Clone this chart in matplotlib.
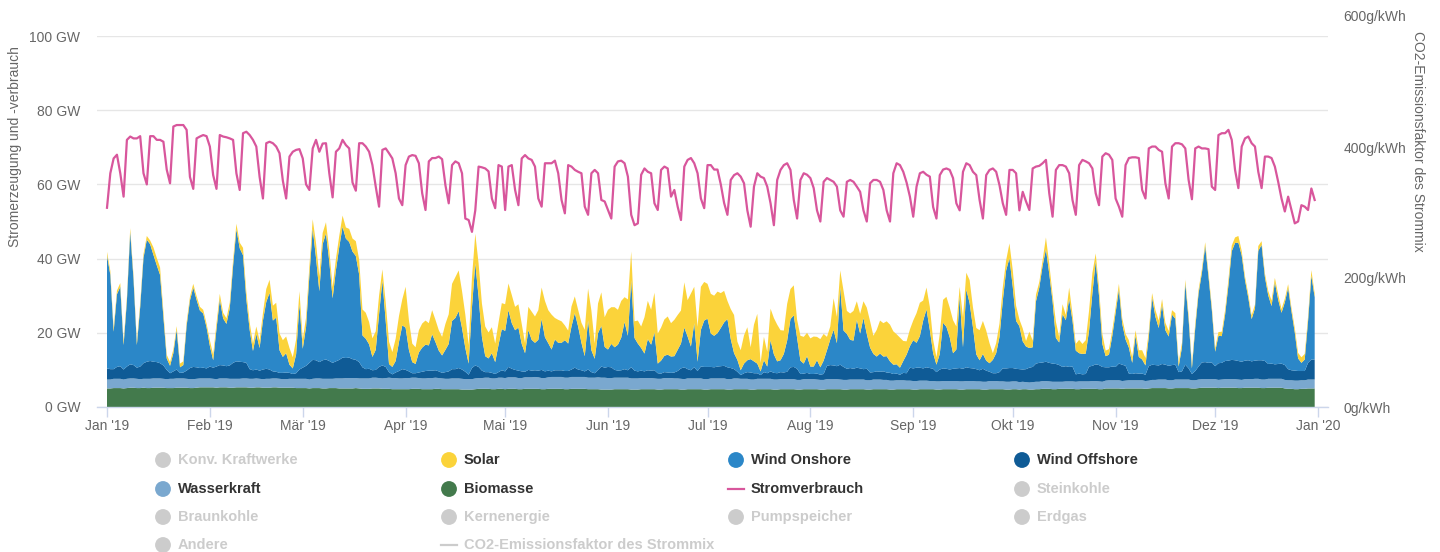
import numpy as np
import pandas as pd
import matplotlib
matplotlib.use("Agg")
import matplotlib.pyplot as plt
import matplotlib.dates as mdates

plt.rcParams['font.family'] = ['Liberation Sans', 'DejaVu Sans']

# ---------------- data ----------------
dates = pd.date_range("2019-01-01", "2019-12-31", freq="D")
month_ticks = pd.date_range("2019-01-01", "2020-01-01", freq="MS")
month_labels = ["Jan '19", "Feb '19", "Mär '19", "Apr '19", "Mai '19", "Jun '19",
                "Jul '19", "Aug '19", "Sep '19", "Okt '19", "Nov '19", "Dez '19", "Jan '20"]
gw_ticks = [0, 20, 40, 60, 80, 100]
co2_ticks = [0, 200, 400, 600]

# Stromverbrauch (GW), daily
consumption = [
    53.7, 63.0, 67.0, 68.0, 63.0, 56.7,
    72.0, 72.9, 72.4, 72.4, 73.0, 63.0, 60.0,
    73.0, 73.0, 72.0, 72.0, 71.5, 64.0, 60.3,
    75.6, 76.0, 76.0, 76.0, 74.7, 62.0, 58.8,
    72.4, 72.9, 73.3, 73.0, 70.2, 62.5, 58.8,
    73.3, 72.9, 72.7, 72.4, 72.0, 63.0, 58.5,
    73.8, 74.2, 73.3, 72.0, 70.2, 62.0, 56.2,
    71.1, 71.5, 71.1, 70.2, 68.4, 61.0, 56.2,
    67.5, 68.8, 69.3, 69.5, 67.0, 60.0, 58.5,
    69.7, 72.0, 68.8, 71.0, 71.1, 63.0, 56.5,
    68.8, 69.7, 72.0, 70.6, 69.7, 60.5, 58.3,
    71.1, 71.1, 70.2, 68.8, 65.2, 59.4, 54.0,
    69.3, 69.7, 68.4, 67.0, 63.0, 56.2, 54.4,
    65.2, 67.5, 67.9, 67.7, 65.7, 57.6, 53.1,
    66.2, 67.1, 67.1, 67.5, 66.8, 59.8, 54.9,
    65.2, 66.2, 65.7, 63.0, 50.8, 50.4, 47.2,
    53.0, 64.8, 64.6, 64.3, 63.5, 56.2, 53.6,
    65.2, 64.8, 53.1, 64.8, 65.2, 58.5, 54.4,
    67.0, 67.9, 67.0, 66.6, 64.8, 56.2, 54.0,
    65.7, 65.7, 65.7, 66.4, 63.0, 55.8, 52.2,
    65.2, 64.8, 63.9, 63.4, 63.0, 54.0, 51.8,
    63.0, 63.9, 63.0, 55.8, 55.4, 53.1, 50.8,
    64.8, 66.2, 66.4, 65.7, 62.1, 51.8, 49.0,
    49.5, 62.6, 64.3, 63.4, 63.0, 54.9, 53.1,
    63.9, 64.8, 64.3, 56.7, 58.5, 54.0, 50.4,
    64.8, 66.6, 67.1, 65.7, 63.0, 56.2, 53.6,
    65.2, 65.2, 64.0, 64.0, 60.0, 55.0, 51.8,
    61.2, 62.5, 63.0, 62.1, 60.3, 53.0, 48.6,
    59.4, 63.0, 62.1, 61.7, 59.4, 54.9, 49.0,
    61.2, 63.9, 65.2, 65.7, 63.9, 55.8, 50.8,
    61.2, 63.0, 62.6, 61.7, 59.0, 53.0, 50.0,
    60.7, 61.7, 61.2, 60.7, 59.4, 53.0, 51.3,
    60.7, 61.2, 60.7, 59.4, 58.0, 53.0, 50.0,
    60.3, 61.2, 61.2, 60.7, 58.5, 53.0, 50.0,
    63.0, 65.7, 65.2, 63.4, 60.5, 56.7, 51.3,
    59.4, 63.0, 63.4, 62.6, 62.1, 53.9, 50.8,
    62.5, 64.0, 64.3, 63.9, 61.7, 54.9, 53.0,
    63.4, 65.7, 65.2, 63.4, 62.5, 55.8, 50.8,
    62.5, 63.9, 64.3, 63.4, 59.8, 54.9, 51.8,
    63.9, 63.9, 63.0, 53.0, 58.0, 55.4, 53.1,
    64.3, 64.8, 65.0, 65.7, 66.6, 57.6, 51.3,
    63.9, 65.2, 65.2, 64.8, 63.0, 55.8, 51.8,
    65.2, 66.6, 66.2, 65.7, 64.3, 57.6, 54.4,
    67.5, 68.4, 68.0, 66.6, 56.2, 54.0, 51.3,
    65.2, 67.1, 67.3, 67.3, 67.1, 58.5, 56.2,
    69.7, 70.2, 70.2, 69.3, 68.8, 60.3, 56.2,
    70.2, 71.1, 71.1, 70.8, 69.7, 61.2, 56.0,
    69.7, 70.2, 69.7, 69.7, 69.5, 59.4, 58.5,
    73.3, 73.8, 73.8, 74.7, 72.0, 63.9, 59.0,
    70.2, 72.4, 72.9, 71.1, 70.2, 63.4, 59.0,
    67.5, 67.5, 67.1, 64.8, 60.7, 56.2, 52.7,
    56.7, 53.1, 49.5, 50.0, 54.4, 54.0, 53.1, 58.9, 55.8,
]

# Solar (GW), daily
solar = [
    1.0,1.0,1.0,1.0,1.0,1.0,1.0,1.0,1.0,1.0,1.0,1.0,1.0,1.0,2.0,2.0,2.0,1.5,1.0,1.0,1.0,1.0,1.0,1.0,1.0,1.0,1.0,1.0,1.0,1.0,1.0,
    1.5,1.5,1.5,1.5,1.5,1.5,1.5,1.5,1.5,1.5,2.0,2.0,2.0,2.0,2.0,2.0,2.0,3.5,3.5,4.0,4.0,4.5,4.5,4.5,4.5,3.0,4.0,3.5,
    2.5,2.5,2.5,2.5,4.0,4.0,3.0,3.0,3.0,3.0,3.0,3.0,3.0,3.0,3.5,3.5,4.0,4.0,7.0,7.0,6.0,5.0,5.0,5.0,3.0,5.0,6.0,4.0,6.0,7.0,7.0,
    11.0,8.0,5.0,4.5,6.0,6.5,6.5,6.0,6.5,6.0,5.5,5.0,7.0,8.0,10.0,11.0,11.0,10.0,9.0,5.0,8.0,8.0,9.0,9.0,8.0,7.0,7.0,5.0,6.0,7.0,
    7.2,7.2,7.6,6.3,6.3,5.4,2.7,6.3,7.6,7.1,8.0,8.5,9.8,8.9,9.4,5.8,6.2,5.8,4.0,3.5,5.4,4.5,4.5,5.4,7.1,8.6,10.7,4.1,8.0,9.0,8.0,
    10.7,9.9,10.8,9.4,9.9,6.7,9.8,7.7,4.5,6.2,5.8,9.8,10.3,9.4,10.7,8.1,8.9,9.8,10.3,9.0,9.8,9.4,8.9,12.2,9.8,14.3,9.8,9.4,11.6,10.4,
    9.4,10.7,10.8,11.2,9.4,8.5,4.9,8.1,10.3,4.9,5.4,7.6,8.9,3.2,9.9,13.4,2.3,6.3,4.0,8.5,9.8,9.9,8.1,6.3,9.9,8.1,8.1,4.9,6.7,7.2,6.3,
    7.6,8.1,6.3,7.6,7.2,3.6,3.5,8.5,7.1,4.5,10.7,6.2,7.1,8.0,5.0,5.3,4.5,7.1,7.1,4.9,7.2,8.9,9.0,9.4,9.9,9.0,8.1,8.1,5.4,3.6,4.5,
    5.3,8.0,9.0,5.4,5.9,6.2,3.6,2.0,5.4,6.2,8.1,8.0,8.9,6.2,2.7,8.0,4.5,6.2,5.4,7.1,8.1,8.9,8.1,5.4,1.8,2.7,3.6,3.6,2.7,4.0,
    4.5,4.1,1.8,3.5,1.5,4.4,1.8,1.8,1.5,1.5,3.2,2.7,1.8,4.4,1.4,2.7,1.4,3.1,1.8,1.8,3.6,2.7,3.6,5.4,5.4,2.2,2.2,2.7,1.5,1.5,1.5,
    1.5,1.5,1.5,1.5,2.0,1.5,1.5,1.8,2.5,2.0,1.5,1.2,1.8,2.0,1.5,2.0,1.5,1.2,1.5,1.2,1.2,1.0,1.2,1.0,1.2,1.0,1.0,1.0,1.0,1.0,
    1.0,1.0,1.2,1.2,1.5,1.5,1.5,1.8,1.2,1.0,1.0,1.0,1.0,1.3,1.0,1.0,1.2,1.5,1.2,1.5,1.0,1.0,1.0,1.0,1.2,1.5,1.5,1.5,1.2,1.5,1.0,
]

# Wind Onshore (GW), daily
wind_onshore = [
    30.4,25.5,10.1,19.6,21.4,6.6,17.7,35.7,23.1,6.1,16.0,28.4,32.9,31.5,28.8,26.1,23.8,13.1,3.1,2.0,4.9,10.7,1.5,2.0,12.1,18.2,21.4,18.2,15.5,14.6,11.1,
    5.6,2.0,10.1,17.7,12.7,11.4,15.4,26.1,35.6,30.6,28.8,17.1,10.6,5.2,9.6,6.1,13.2,18.0,20.7,13.7,14.6,6.1,4.3,5.2,2.2,1.5,5.1,17.6,
    5.1,10.5,23.5,35.4,27.6,19.1,31.3,34.0,26.8,17.4,24.6,30.4,35.3,32.2,31.2,29.0,28.0,23.6,8.6,8.2,6.6,3.6,5.4,14.2,22.9,12.4,2.2,2.0,3.1,7.8,11.8,
    11.4,5.8,3.0,2.5,5.4,6.5,7.1,6.8,9.8,7.6,5.6,4.7,6.0,7.4,13.0,13.8,15.3,11.2,6.4,3.0,16.3,27.5,18.9,9.1,4.3,3.7,5.3,3.2,7.3,11.1,
    10.9,15.3,12.3,10.7,11.6,7.4,5.0,10.7,8.3,7.4,8.3,13.7,9.2,7.4,5.9,8.3,7.4,7.4,8.3,7.4,11.6,14.7,11.6,7.4,4.1,13.2,5.9,3.9,9.9,11.0,5.6,
    4.7,6.3,6.1,7.0,8.8,12.7,9.3,23.5,8.8,7.5,6.1,4.8,8.4,7.0,10.2,2.6,3.5,4.4,4.8,4.4,4.4,5.7,6.7,10.7,8.8,6.4,11.9,2.5,9.9,12.5,
    13.0,9.0,8.5,9.0,10.3,11.7,13.0,7.8,4.3,3.2,1.3,2.6,3.2,3.6,3.2,2.6,1.0,3.2,1.8,8.4,5.0,3.2,3.2,5.0,8.4,13.0,13.9,8.3,3.6,2.7,4.5,
    2.0,2.0,3.6,2.0,3.6,4.2,6.9,9.6,6.2,20.9,9.8,9.4,7.6,7.6,12.9,9.4,13.8,9.4,6.7,4.9,4.0,4.9,4.0,4.4,3.1,2.5,2.5,1.9,3.2,5.0,5.8,
    7.6,6.7,8.5,12.9,15.6,10.3,4.2,2.0,4.2,12.3,11.3,8.7,4.2,5.1,19.2,5.8,21.0,17.5,11.1,4.0,2.7,4.0,2.7,2.3,3.6,5.4,9.5,18.3,26.4,29.6,
    21.9,12.9,11.6,7.6,6.1,5.3,5.3,16.8,20.3,26.1,30.3,24.0,16.8,7.0,6.1,14.2,12.4,18.3,12.4,6.4,5.5,5.5,5.5,9.7,19.6,27.7,18.7,6.2,3.0,3.4,8.3,
    14.6,20.0,11.0,7.1,7.0,3.0,10.1,4.5,3.8,2.5,7.9,18.1,13.0,10.1,16.0,9.3,7.9,13.6,12.4,1.5,6.5,21.9,13.3,1.5,11.6,19.7,24.1,31.3,23.2,14.2,
    3.9,7.4,7.2,12.5,20.3,29.3,31.6,31.9,28.7,21.7,16.8,11.4,14.1,29.5,31.1,22.6,18.5,15.5,22.1,17.3,13.7,16.9,21.9,15.9,10.3,3.4,2.2,3.1,11.2,22.6,16.8,
]

# Wind Offshore (GW), daily
wind_offshore = [
    3.0,2.8,2.6,3.2,3.4,2.7,3.3,3.8,3.6,3.0,3.4,4.2,4.6,4.8,4.5,4.4,4.1,3.6,2.5,1.5,2.0,2.4,1.5,1.6,2.2,3.0,3.3,3.1,2.8,2.9,2.7,
    3.2,3.0,3.4,3.6,3.5,3.3,3.6,4.3,4.7,4.6,4.4,4.2,2.6,2.3,2.4,2.2,2.6,2.7,2.5,1.9,1.8,1.6,1.7,1.8,1.6,1.3,1.5,2.5,
    3.0,3.5,4.5,5.1,4.9,4.4,5.0,5.2,4.8,4.3,4.6,5.0,5.6,5.4,5.5,5.1,4.9,4.4,3.0,2.5,2.6,2.0,2.1,3.0,3.5,3.0,1.5,1.0,1.5,2.0,2.5,
    2.2,1.8,1.2,1.2,1.5,1.8,2.0,2.0,2.0,2.0,1.8,1.5,1.8,2.0,2.5,2.5,2.8,2.5,2.0,1.2,3.0,3.5,3.0,2.0,1.5,1.5,1.5,1.2,1.5,2.0,
    1.8,2.8,2.3,2.0,2.0,1.8,1.5,2.0,1.8,1.8,1.8,2.2,1.8,1.8,1.5,1.8,1.8,1.8,1.8,1.8,2.0,2.5,2.0,1.8,1.5,2.2,1.5,1.2,2.0,3.0,2.7,
    3.0,2.9,2.1,1.9,2.0,2.3,2.0,3.0,2.1,1.9,2.0,1.8,2.1,2.0,2.2,1.5,1.4,1.6,1.5,1.4,1.6,2.0,2.8,3.2,2.5,2.2,3.0,2.0,3.2,3.3,
    3.3,3.1,3.0,3.2,3.3,3.4,3.2,3.0,2.5,1.8,1.0,1.5,1.8,1.9,1.7,1.5,1.0,1.8,1.5,2.0,1.8,1.7,1.9,1.8,2.0,3.2,3.3,3.0,1.6,1.5,1.7,
    1.4,1.4,1.6,1.4,1.6,3.6,3.8,3.7,3.5,4.0,3.5,3.0,3.1,2.9,3.2,3.0,2.8,3.1,2.1,2.0,2.2,2.1,2.3,2.0,2.1,1.8,1.8,1.5,2.0,2.0,3.5,
    3.4,3.6,3.5,3.3,3.6,3.5,3.3,2.5,3.2,3.4,3.3,3.1,3.3,3.4,3.6,3.4,3.7,3.5,3.4,3.3,3.0,3.5,3.0,2.5,2.1,2.1,2.5,3.5,3.6,3.7,
    3.6,3.4,3.5,3.3,3.5,4.0,4.1,4.9,5.1,5.0,5.2,5.0,4.9,4.8,4.5,4.0,4.1,3.9,4.0,2.0,2.1,1.9,2.0,4.0,4.1,4.5,4.4,4.0,3.6,3.5,3.7,
    3.6,4.5,4.4,4.0,1.8,1.7,1.9,1.8,1.8,1.7,3.9,4.1,4.0,3.8,4.2,4.0,3.9,4.1,4.0,2.0,2.2,4.0,3.0,1.7,2.5,3.5,4.5,4.6,4.4,4.5,
    3.5,4.5,4.5,4.9,5.0,5.2,5.1,5.0,4.9,5.0,5.1,4.8,4.9,5.0,5.2,5.0,4.0,4.1,3.9,4.0,4.1,4.0,3.0,2.7,2.7,2.6,2.5,2.5,4.5,5.4,5.4,
]

# Wasserkraft (GW), daily
hydro = [
    2.4,2.4,2.5,2.5,2.5,2.4,2.5,2.5,2.5,2.5,2.4,2.4,2.5,2.5,2.5,2.5,2.5,2.4,2.4,2.5,2.5,2.5,2.5,2.5,2.4,2.4,2.4,2.4,2.4,2.4,2.4,
    2.4,2.3,2.3,2.4,2.4,2.4,2.4,2.4,2.3,2.3,2.4,2.4,2.4,2.4,2.4,2.3,2.3,2.4,2.4,2.4,2.4,2.4,2.3,2.3,2.4,2.4,2.5,2.5,
    2.5,2.5,2.4,2.5,2.6,2.6,2.6,2.6,2.5,2.5,2.6,2.7,2.7,2.8,2.8,2.8,2.7,2.7,2.8,2.8,2.8,2.9,2.9,2.8,2.8,2.9,3.0,3.0,3.0,2.9,2.9,
    3.0,3.0,3.0,3.0,2.9,2.9,2.9,3.0,3.0,3.0,2.9,2.9,2.8,2.8,2.9,2.9,2.9,2.9,2.8,2.8,2.8,2.9,2.9,2.9,3.0,3.0,2.9,2.9,3.0,3.0,
    3.0,3.1,3.1,3.1,3.0,3.0,3.1,3.1,3.1,3.2,3.1,3.0,3.0,3.1,3.2,3.2,3.2,3.2,3.1,3.1,3.2,3.2,3.2,3.2,3.2,3.1,3.1,3.1,3.2,3.2,3.2,
    3.1,3.1,3.1,3.1,3.1,3.1,3.1,3.0,3.0,3.0,3.0,3.0,3.0,3.0,2.9,2.9,2.9,3.0,3.0,3.0,2.9,2.9,2.9,2.8,2.9,2.9,2.9,2.9,2.9,2.8,
    2.8,2.9,2.9,2.9,2.9,2.9,2.8,2.8,2.9,2.9,2.8,2.8,2.8,2.7,2.7,2.8,2.8,2.8,2.8,2.8,2.7,2.7,2.7,2.7,2.7,2.7,2.7,2.6,2.6,2.7,2.7,
    2.7,2.7,2.6,2.6,2.6,2.7,2.7,2.7,2.7,2.6,2.6,2.6,2.6,2.6,2.6,2.6,2.6,2.5,2.5,2.6,2.6,2.6,2.5,2.5,2.4,2.4,2.4,2.4,2.4,2.3,2.3,
    2.3,2.3,2.3,2.3,2.3,2.2,2.2,2.2,2.2,2.2,2.2,2.2,2.2,2.2,2.2,2.2,2.2,2.2,2.2,2.1,2.1,2.1,2.1,2.2,2.2,2.2,2.1,2.1,2.1,2.1,
    2.1,2.1,2.0,2.0,1.9,1.9,2.0,2.0,2.0,2.1,2.1,2.0,2.0,2.0,1.9,1.9,2.0,2.0,2.0,2.0,2.1,2.0,2.0,2.0,2.1,2.1,2.1,2.0,2.1,2.2,2.2,
    2.2,2.2,2.1,2.1,2.2,2.2,2.2,2.2,2.2,2.1,2.1,2.2,2.2,2.3,2.3,2.3,2.2,2.2,2.3,2.3,2.3,2.3,2.3,2.2,2.2,2.3,2.3,2.3,2.3,2.3,
    2.3,2.2,2.2,2.3,2.3,2.3,2.3,2.3,2.2,2.3,2.3,2.3,2.4,2.4,2.3,2.3,2.4,2.4,2.4,2.4,2.4,2.3,2.3,2.3,2.3,2.3,2.3,2.3,2.4,2.4,2.4,
]

# Biomasse (GW), daily
biomass = [
    5.0,5.0,5.1,5.1,5.1,5.0,5.1,5.2,5.2,5.1,5.1,5.2,5.1,5.1,5.2,5.2,5.2,5.2,5.1,5.1,5.1,5.2,5.2,5.2,5.2,5.1,5.1,5.2,5.3,5.3,5.3,
    5.3,5.3,5.2,5.3,5.3,5.3,5.2,5.2,5.3,5.3,5.3,5.3,5.2,5.2,5.3,5.3,5.2,5.2,5.2,5.3,5.3,5.2,5.2,5.2,5.2,5.2,5.1,5.1,
    5.1,5.1,5.0,5.1,5.1,5.1,5.0,5.0,5.1,5.1,5.1,5.0,5.0,5.0,5.0,5.0,5.1,5.0,4.9,4.9,4.9,5.0,5.0,5.0,4.9,4.9,4.9,4.8,4.8,4.8,4.8,
    4.8,4.8,4.9,4.9,4.9,4.8,4.8,4.8,4.8,4.9,4.9,4.8,4.8,4.8,4.8,4.8,4.8,4.7,4.7,4.7,4.7,4.8,4.9,4.9,4.9,4.9,4.8,4.8,4.9,4.9,
    4.8,4.9,4.9,4.9,4.8,4.8,4.9,4.9,4.9,4.9,4.9,4.8,4.8,4.9,4.9,4.9,4.9,4.9,4.8,4.8,4.9,4.9,4.9,4.9,4.9,4.8,4.8,4.8,4.8,4.7,4.7,
    4.7,4.7,4.8,4.8,4.8,4.8,4.8,4.7,4.7,4.7,4.8,4.8,4.8,4.8,4.8,4.7,4.7,4.8,4.8,4.8,4.8,4.8,4.7,4.7,4.8,4.8,4.8,4.8,4.8,4.7,
    4.7,4.8,4.8,4.8,4.8,4.8,4.7,4.7,4.8,4.8,4.8,4.8,4.8,4.7,4.7,4.8,4.8,4.8,4.8,4.8,4.7,4.7,4.8,4.8,4.8,4.8,4.8,4.7,4.7,4.8,4.8,
    4.8,4.8,4.8,4.7,4.7,4.8,4.8,4.8,4.8,4.8,4.7,4.7,4.8,4.8,4.8,4.8,4.8,4.7,4.7,4.8,4.8,4.8,4.8,4.8,4.7,4.7,4.8,4.8,4.8,4.8,4.8,
    4.7,4.7,4.8,4.8,4.8,4.8,4.8,4.7,4.7,4.8,4.8,4.8,4.8,4.8,4.7,4.7,4.8,4.8,4.8,4.8,4.8,4.7,4.7,4.8,4.8,4.8,4.8,4.8,4.7,4.7,
    4.8,4.8,4.7,4.8,4.8,4.7,4.7,4.8,4.8,4.9,4.9,4.9,4.8,4.8,4.9,4.9,4.9,4.9,4.9,4.8,4.8,4.9,4.9,4.9,4.9,4.9,4.8,4.8,5.0,5.0,5.0,
    5.0,5.0,4.9,5.0,5.0,5.0,5.0,5.0,5.0,4.9,5.0,5.1,5.1,5.1,5.1,5.1,5.0,5.0,5.1,5.1,5.1,5.1,5.1,5.0,5.0,5.1,5.2,5.2,5.2,5.2,
    5.2,5.1,5.2,5.2,5.2,5.2,5.2,5.1,5.1,5.2,5.2,5.2,5.2,5.2,5.1,5.1,5.2,5.2,5.2,5.2,5.2,5.0,4.9,4.9,4.8,4.8,4.9,4.9,5.0,5.0,5.0,
]

series_lengths = {k: len(v) for k, v in dict(consumption=consumption, solar=solar, wind_onshore=wind_onshore,
                                            wind_offshore=wind_offshore, hydro=hydro, biomass=biomass).items()}
for k, n in series_lengths.items():
    assert n == len(dates), (k, n)

# ---------------- style ----------------
C_SOLAR = '#fbd33a'
C_ON = '#2b87c8'
C_OFF = '#0f5b96'
C_HYDRO = '#7aa8cf'
C_BIO = '#437a4c'
C_CONS = '#d8569c'
C_OFFLEG = '#cccccc'
C_TXT = '#666666'
FS_AX = 10
FS_LEG = 10.5

W, H = 1440, 552
fig = plt.figure(figsize=(W / 100, H / 100), dpi=100)
fig.patch.set_facecolor('white')

def box(x0, y0, x1, y1):
    return [x0 / W, 1 - y1 / H, (x1 - x0) / W, (y1 - y0) / H]

ax = fig.add_axes(box(97, 36, 1328, 407))
xd = mdates.date2num(dates)
ax.stackplot(xd, biomass, hydro, wind_offshore, wind_onshore, solar,
             colors=[C_BIO, C_HYDRO, C_OFF, C_ON, C_SOLAR], linewidth=0, zorder=2)
ax.plot(xd, consumption, color=C_CONS, lw=1.6, zorder=3, solid_joinstyle='round')

px_per_day = (1318 - 107) / 365.0
pad_days = 10 / px_per_day
x_start = mdates.date2num(pd.Timestamp("2019-01-01")) - pad_days
x_end = mdates.date2num(pd.Timestamp("2020-01-01")) + pad_days
ax.set_xlim(x_start, x_end)
ax.set_ylim(0, 100)

ax.set_yticks(gw_ticks)
ax.set_yticklabels([f"{v} GW" for v in gw_ticks])
ax.yaxis.grid(True, color='#e6e6e6', lw=1)
ax.set_axisbelow(True)
ax.tick_params(axis='y', length=0, pad=12, labelcolor=C_TXT, labelsize=FS_AX)

ax.set_xticks(mdates.date2num(month_ticks))
ax.set_xticklabels(month_labels)
ax.tick_params(axis='x', length=7, width=1, color='#ccd6eb', pad=9.5, labelcolor=C_TXT, labelsize=FS_AX)
for lbl in ax.get_xticklabels():
    lbl.set_verticalalignment('baseline')

for s in ['top', 'right', 'left']:
    ax.spines[s].set_visible(False)
ax.spines['bottom'].set_color('#ccd6eb')
ax.spines['bottom'].set_linewidth(1)
ax.spines['bottom'].set_zorder(4)

# right axis (CO2)
ax2 = ax.twinx()
ax2.set_ylim(0, (407 - 36) / 130.0 * 200)
ax2.set_yticks(co2_ticks[:3])
ax2.set_yticklabels([f"{v}g/kWh" for v in co2_ticks[:3]])
ax2.tick_params(axis='y', length=0, pad=11, labelcolor=C_TXT, labelsize=FS_AX)
for s in ax2.spines.values():
    s.set_visible(False)
ax2.text(1.0 + 15 / (1328 - 97), co2_ticks[3], f"{co2_ticks[3]}g/kWh", transform=ax2.get_yaxis_transform(),
         ha='left', va='center', color=C_TXT, fontsize=FS_AX, clip_on=False)

fig.text(15 / W, 1 - 147 / H, "Stromerzeugung und -verbrauch", rotation=90,
         ha='center', va='center', color=C_TXT, fontsize=FS_AX)
fig.text(1418 / W, 1 - 141 / H, "CO2-Emissionsfaktor des Strommix", rotation=270,
         ha='center', va='center', color=C_TXT, fontsize=FS_AX)

# legend
lax = fig.add_axes([0, 0, 1, 1])
lax.set_xlim(0, W)
lax.set_ylim(H, 0)
lax.axis('off')
lax.patch.set_alpha(0)

legend_items = [
    ("Konv. Kraftwerke", 'circle', C_OFFLEG, False),
    ("Solar", 'circle', C_SOLAR, True),
    ("Wind Onshore", 'circle', C_ON, True),
    ("Wind Offshore", 'circle', C_OFF, True),
    ("Wasserkraft", 'circle', C_HYDRO, True),
    ("Biomasse", 'circle', C_BIO, True),
    ("Stromverbrauch", 'line', C_CONS, True),
    ("Steinkohle", 'circle', C_OFFLEG, False),
    ("Braunkohle", 'circle', C_OFFLEG, False),
    ("Kernenergie", 'circle', C_OFFLEG, False),
    ("Pumpspeicher", 'circle', C_OFFLEG, False),
    ("Erdgas", 'circle', C_OFFLEG, False),
    ("Andere", 'circle', C_OFFLEG, False),
    ("CO2-Emissionsfaktor des Strommix", 'line', C_OFFLEG, False),
]
col_x = [163, 449, 736, 1022]
row_y = [460, 489, 517, 545]
for i, (label, kind, color, active) in enumerate(legend_items):
    cx = col_x[i % 4]
    cy = row_y[i // 4]
    if kind == 'circle':
        lax.scatter([cx], [cy], s=130, color=color, edgecolors='none', zorder=5)
    else:
        lax.plot([cx - 8, cx + 8], [cy, cy], color=color, lw=1.6, zorder=5)
    lax.text(cx + 15, cy, label, ha='left', va='center', fontsize=FS_LEG, fontweight='bold',
             color='#333333' if active else C_OFFLEG)

fig.savefig("out.png", dpi=100, facecolor='white')
